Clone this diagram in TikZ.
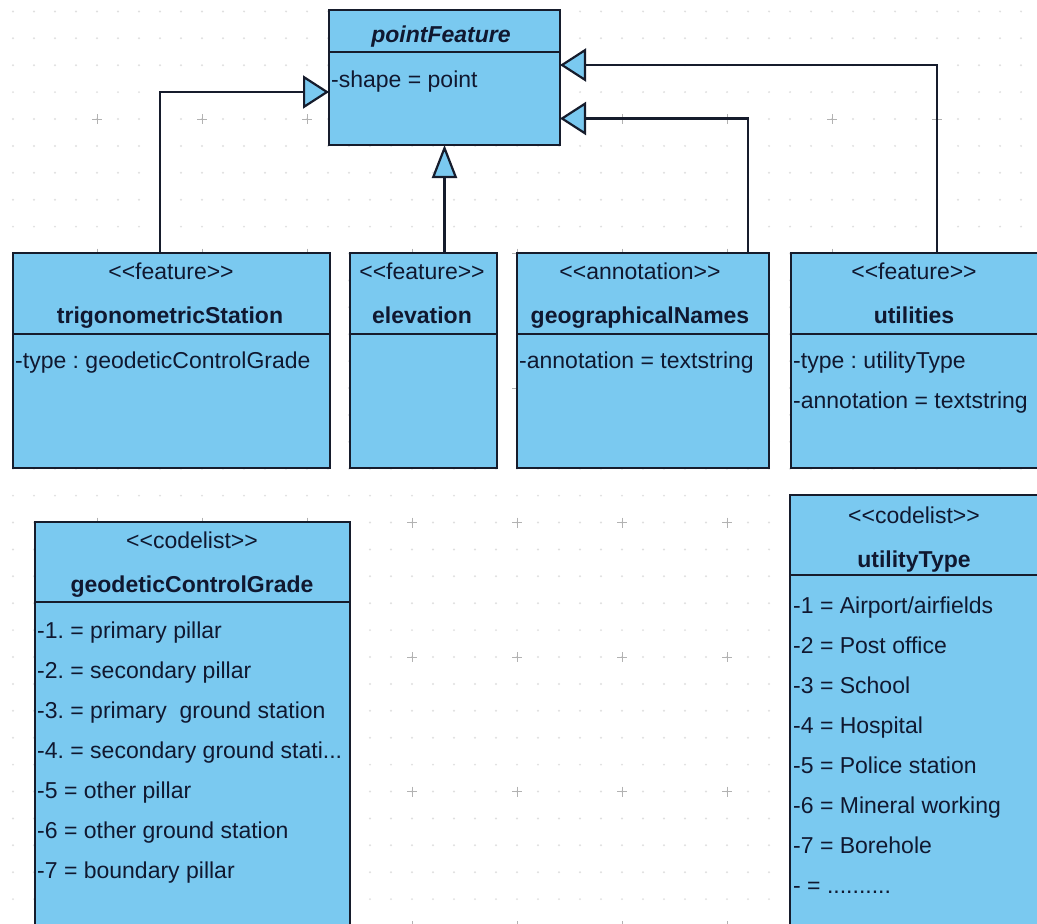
\documentclass[tikz,border=0pt]{standalone}
\usepackage{fontspec}
\setmainfont{Liberation Sans}
\usetikzlibrary{arrows.meta}
\definecolor{boxblue}{RGB}{122,201,240}
\definecolor{boxline}{RGB}{22,28,44}
\definecolor{boxtext}{RGB}{16,24,48}
\newcommand{\stype}[1]{<\kern0pt<#1>\kern0pt>}
\frenchspacing

\begin{document}
\begin{tikzpicture}[x=1pt,y=-1pt,
    umlbox/.style={draw=boxline, fill=boxblue, line width=2.2pt, inner sep=0pt, outer sep=0pt, anchor=north west},
    sepline/.style={draw=boxline, line width=2.2pt},
    stereo/.style={anchor=base, inner sep=0pt, text=boxtext, font=\fontsize{23}{27}\selectfont},
    cname/.style={stereo, font=\fontsize{23}{27}\selectfont\bfseries},
    attr/.style={anchor=base west, inner sep=0pt, text=boxtext, font=\fontsize{23}{27}\selectfont},
    gen/.style={draw=boxline, line width=2.2pt, -{Triangle[length=26pt, width=33pt, fill=boxblue]}}]
            \useasboundingbox (0,0) rectangle (1037,924);
            \clip (0,0) rectangle (1037,924);
            \fill[white] (0,0) rectangle (1037,924);
            % grid
            \foreach \i in {0,...,50}
              \foreach \j in {0,...,34}
                \fill[gray!25] (-8+21*\i,11.4+26.9*\j) circle[radius=1.1pt];
            \foreach \i in {0,...,10}
              \foreach \j in {0,...,6}
                \draw[gray!60, line width=0.9pt] (-13+105*\i,119+134.5*\j) -- ++(10,0)
                  (-8+105*\i,114+134.5*\j) -- ++(0,10);

            % pointFeature
            \node[umlbox, minimum width=231pt, minimum height=135pt] (pf) at (329,10) {};
            \draw[sepline] (329,52) -- (560,52);
            \node[cname, font=\fontsize{23}{27}\selectfont\bfseries\itshape] (pfnm) at (441,42) {pointFeature};
            \node[attr] (pfat) at (331,87) {-shape = point};

            % trigonometricStation
            \node[umlbox, minimum width=317pt, minimum height=215pt] (ts) at (13,253) {};
            \draw[sepline] (13,334) -- (330,334);
            \node[stereo] (tsst) at (171,279) {\stype{feature}};
            \node[cname] (tsnm) at (170,323) {trigonometricStation};
            \node[attr] (tsat) at (15,368) {-type : geodeticControlGrade};

            % elevation
            \node[umlbox, minimum width=147pt, minimum height=215pt] (el) at (350,253) {};
            \draw[sepline] (350,334) -- (497,334);
            \node[stereo] (elst) at (422,279) {\stype{feature}};
            \node[cname] (elnm) at (422,323) {elevation};

            % geographicalNames
            \node[umlbox, minimum width=252pt, minimum height=215pt] (gn) at (517,253) {};
            \draw[sepline] (517,334) -- (769,334);
            \node[stereo] (gnst) at (640,279) {\stype{annotation}};
            \node[cname] (gnnm) at (640,323) {geographicalNames};
            \node[attr] (gnat) at (519,368) {-annotation = textstring};

            % utilities
            \node[umlbox, minimum width=250pt, minimum height=215pt] (ut) at (791,253) {};
            \draw[sepline] (791,334) -- (1041,334);
            \node[stereo] (utst) at (914,279) {\stype{feature}};
            \node[cname] (utnm) at (914,323) {utilities};
            \node[attr] (utat) at (793,368) {-type : utilityType};
            \node[attr] (utan) at (793,408) {-annotation = textstring};

            % geodeticControlGrade
            \node[umlbox, minimum width=315pt, minimum height=420pt] (gc) at (35,522) {};
            \draw[sepline] (35,602) -- (350,602);
            \node[stereo] (gcst) at (192,548) {\stype{codelist}};
            \node[cname] (gcnm) at (192,592) {geodeticControlGrade};
            \node[attr] (gc1) at (37,638) {-1. = primary pillar};
            \node[attr] (gc2) at (37,678) {-2. = secondary pillar};
            \node[attr] (gc3) at (37,718) {-3. = primary\ \ ground station};
            \node[attr] (gc4) at (37,758) {-4. = secondary ground stati...};
            \node[attr] (gc5) at (37,798) {-5 = other pillar};
            \node[attr] (gc6) at (37,838) {-6 = other ground station};
            \node[attr] (gc7) at (37,878) {-7 = boundary pillar};

            % utilityType
            \node[umlbox, minimum width=250pt, minimum height=445pt] (uy) at (790,495) {};
            \draw[sepline] (790,575) -- (1040,575);
            \node[stereo] (uyst) at (914,523) {\stype{codelist}};
            \node[cname] (uynm) at (914,567) {utilityType};
            \node[attr] (uy1) at (793,613) {-1 = Airport/airfields};
            \node[attr] (uy2) at (793,653) {-2 = Post office};
            \node[attr] (uy3) at (793,693) {-3 = School};
            \node[attr] (uy4) at (793,733) {-4 = Hospital};
            \node[attr] (uy5) at (793,773) {-5 = Police station};
            \node[attr] (uy6) at (793,813) {-6 = Mineral working};
            \node[attr] (uy7) at (793,853) {-7 = Borehole};
            \node[attr] (uy8) at (793,893) {- = ..........};

            % generalizations
            \draw[gen] ([xshift=-11.5pt]ts.north) |- ([yshift=-14.5pt]pf.west);
            \draw[gen, -{Triangle[length=33pt, width=25pt, fill=boxblue]}] (el.north -| pf.south) -- (pf.south);
            \draw[gen] ([xshift=105pt]gn.north) |- ([yshift=-41pt]pf.east);
            \draw[gen] ([xshift=21pt]ut.north) |- ([yshift=12.5pt]pf.east);
        \end{tikzpicture}
\end{document}
